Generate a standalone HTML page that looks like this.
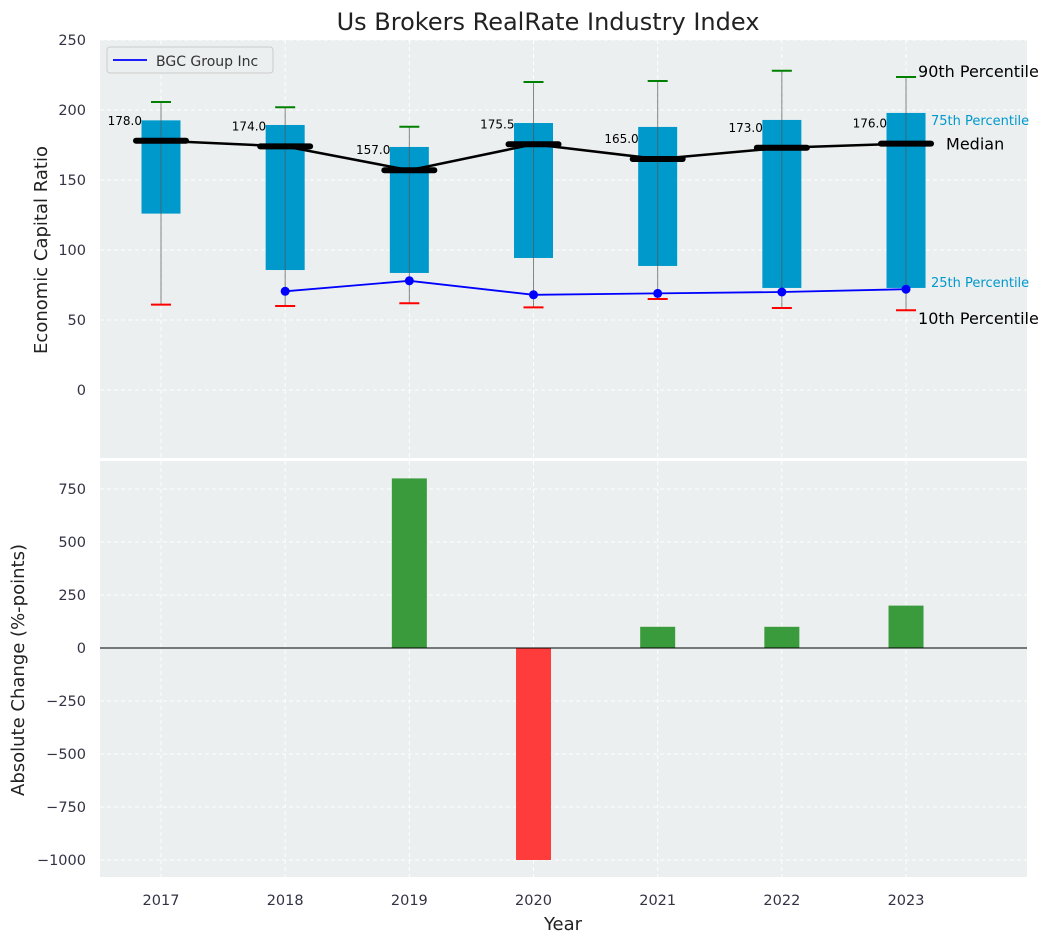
<!DOCTYPE html>
<html><head><meta charset="utf-8"><style>
body{margin:0;background:#fff;font-family:"Liberation Sans","DejaVu Sans",sans-serif}
svg text{font-family:"DejaVu Sans","Liberation Sans",sans-serif}
</style></head><body>
<svg id="c" width="1053" height="942" xmlns="http://www.w3.org/2000/svg"></svg>
<script>
const years=[2017,2018,2019,2020,2021,2022,2023];
const p10=[61,60,62,59,65,58.6,57];
const q1=[126,85.7,83.6,94.3,88.6,72.9,72.9];
const medians=[178,174,157,175.5,165,173,176];
const q3=[192.6,189.3,173.6,190.7,187.9,192.9,197.9];
const p90=[205.7,202,188,220,220.7,228,223.6];
const bgcYears=[2018,2019,2020,2021,2022,2023];
const bgc=[70.5,78,68,69,70,72];
const changes=[0,0,800,-1000,100,100,200];
const topTicks=[0,50,100,150,200,250];
const botTicks=[-1000,-750,-500,-250,0,250,500,750];

const NS="http://www.w3.org/2000/svg";
const svg=document.getElementById('c');
function el(t,a,txt){const e=document.createElementNS(NS,t);for(const k in a)e.setAttribute(k,a[k]);if(txt!=null)e.textContent=txt;svg.appendChild(e);return e;}
const L=100,R=1027;
const X=v=>161+(v-2017)*124.17;
const Y1=v=>40+(250-v)/300*420;
const Y2=v=>648-v*0.212;

el('rect',{x:L,y:40,width:R-L,height:418,fill:'#ebefef'});
el('rect',{x:L,y:461,width:R-L,height:416,fill:'#ebefef'});
const g=(x1,y1,x2,y2)=>el('line',{x1,y1,x2,y2,stroke:'#fff','stroke-dasharray':'4,3','stroke-width':1});
years.forEach(y=>{g(X(y),40,X(y),458);g(X(y),461,X(y),877);
 const t=el('text',{x:X(y),y:905,'text-anchor':'middle','font-size':14.5,fill:'#334'},y);
 });
topTicks.forEach(v=>{g(L,Y1(v),R,Y1(v));
 const t=el('text',{x:86,y:Y1(v)+5,'text-anchor':'end','font-size':14.5,fill:'#334'},v);
 });
botTicks.forEach(v=>{g(L,Y2(v),R,Y2(v));
 const t=el('text',{x:86,y:Y2(v)+5,'text-anchor':'end','font-size':14.5,fill:'#334'},v<0?'\u2212'+(-v):v);
 });

years.forEach((y,i)=>{
 const x=X(y),w=19.5;
 const b=el('rect',{x:x-w,y:Y1(q3[i]),width:2*w,height:Y1(q1[i])-Y1(q3[i]),fill:'#0099cc'});
 
 el('line',{x1:x,x2:x,y1:Y1(p90[i]),y2:Y1(p10[i]),stroke:'#555','stroke-opacity':0.7,'stroke-width':1});
 const c=10;
 el('line',{x1:x-c,x2:x+c,y1:Y1(p90[i]),y2:Y1(p90[i]),stroke:'green','stroke-width':2});
 el('line',{x1:x-c,x2:x+c,y1:Y1(p10[i]),y2:Y1(p10[i]),stroke:'red','stroke-width':2});
});
let d='';years.forEach((y,i)=>d+=(i?'L':'M')+X(y)+','+Y1(medians[i]));
el('path',{d,fill:'none',stroke:'#000','stroke-width':2.5});
years.forEach((y,i)=>{
 const x=X(y);
 const m=el('line',{x1:x-25,x2:x+25,y1:Y1(medians[i]),y2:Y1(medians[i]),stroke:'#000','stroke-width':6,'stroke-linecap':'round'});
 
 const t=el('text',{x:x-19,y:Y1(medians[i])-16,'text-anchor':'end','font-size':12,fill:'#000'},medians[i].toFixed(1));
 
});
d='';bgcYears.forEach((y,i)=>d+=(i?'L':'M')+X(y)+','+Y1(bgc[i]));
el('path',{d,fill:'none',stroke:'#0000ff','stroke-width':1.8});
bgcYears.forEach((y,i)=>{el('circle',{cx:X(y),cy:Y1(bgc[i]),r:4.5,fill:'#0000ff'});});

const lx=X(2023);
[['90th Percentile',lx+12,Y1(p90[6])+0,16,'#000'],['75th Percentile',lx+25,Y1(q3[6])+12,13,'#0099cc'],['Median',lx+40,Y1(medians[6])+6,16,'#000'],['25th Percentile',lx+25,Y1(q1[6])-1,13,'#0099cc'],['10th Percentile',lx+12,Y1(p10[6])+14,16,'#000']].forEach(a=>{
 const t=el('text',{x:a[1],y:a[2],'font-size':a[3],fill:a[4]},a[0]);});

years.forEach((y,i)=>{
 const v=changes[i];if(!v)return;
 const w=17.5;const y0=Y2(Math.max(v,0)),h=Math.abs(Y2(v)-Y2(0));
 const b=el('rect',{x:X(y)-w,y:y0,width:2*w,height:h,fill:v>0?'#3a9b3d':'#ff3c3c'});
 
});
el('line',{x1:L,x2:R,y1:Y2(0),y2:Y2(0),stroke:'#000','stroke-width':1});

const lg=el('rect',{x:107,y:47,width:166,height:26,rx:3,fill:'#ebefef',stroke:'#ccc'});
el('line',{x1:113,x2:147,y1:60,y2:60,stroke:'#0000ff','stroke-width':1.8});
el('text',{x:156,y:66,'font-size':14,fill:'#333'},'BGC Group Inc');

el('text',{x:548,y:30,'text-anchor':'middle','font-size':24,fill:'#222'},'Us Brokers RealRate Industry Index');
el('text',{x:563,y:930,'text-anchor':'middle','font-size':18,fill:'#222'},'Year');
el('text',{x:0,y:0,'text-anchor':'middle','font-size':18,fill:'#222',transform:'translate(47,250) rotate(-90)'},'Economic Capital Ratio');
el('text',{x:0,y:0,'text-anchor':'middle','font-size':18,fill:'#222',transform:'translate(24,670) rotate(-90)'},'Absolute Change (%-points)');
</script>
</body></html>
